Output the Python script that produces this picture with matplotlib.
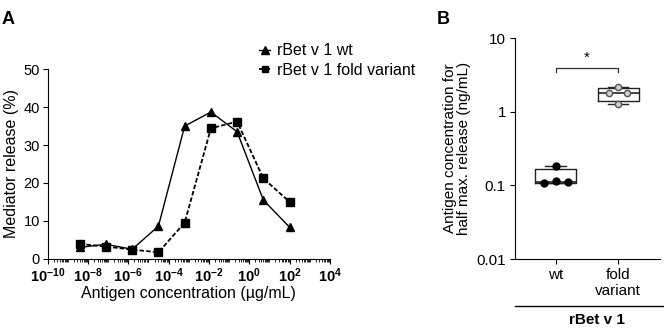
import numpy as np
import matplotlib
matplotlib.use("Agg")
import matplotlib.pyplot as plt
from matplotlib.ticker import LogLocator, FuncFormatter, NullFormatter, NullLocator

plt.rcParams['font.family'] = ['Liberation Sans', 'DejaVu Sans']
plt.rcParams['mathtext.fontset'] = 'custom'
plt.rcParams['mathtext.rm'] = 'Liberation Sans'
plt.rcParams['mathtext.bf'] = 'Liberation Sans:bold'
plt.rcParams['axes.linewidth'] = 0.8

# panel A data: dose response, concentrations in ug/mL (1:20 dilution series)
conc = [3.90625e-9, 7.8125e-8, 1.5625e-6, 3.125e-5, 6.25e-4, 0.0125, 0.25, 5, 100]
wt_release = [3.0, 3.8, 2.5, 8.6, 35.0, 38.7, 33.5, 15.5, 8.3]
fold_release = [3.9, 3.2, 2.4, 1.7, 9.5, 34.4, 36.2, 21.2, 15.0]
series_labels = ["rBet v 1 wt", "rBet v 1 fold variant"]

# panel B data: EC50 (ng/mL)
groups = ["wt", "fold\nvariant"]
wt_ec50 = [0.107, 0.115, 0.110, 0.184]
fold_ec50 = [1.79, 1.28, 1.79, 2.19]
wt_jitter = [-0.19, 0.0, 0.19, 0.0]
fold_jitter = [-0.14, 0.0, 0.14, 0.0]

fig = plt.figure(figsize=(6.64, 3.36), dpi=100)

# ---------------- panel A
axA = fig.add_axes([0.0718, 0.230, 0.425, 0.564])
hA1, = axA.plot(conc, wt_release, '-', color='black', lw=1.0, marker='^', ms=6)
hA2, = axA.plot(conc, fold_release, '--', color='black', lw=1.3, marker='s', ms=5.2,
                dashes=(2.5, 1.2))
axA.set_xscale('log')
axA.set_xlim(1e-10, 1e4)
axA.set_ylim(0, 50)
axA.set_yticks([0, 10, 20, 30, 40, 50])
axA.set_xticks(10.0 ** np.arange(-10, 5, 2))
axA.xaxis.set_minor_locator(LogLocator(base=10, subs=np.arange(1, 10), numticks=100))
axA.xaxis.set_minor_formatter(NullFormatter())
axA.xaxis.set_major_formatter(FuncFormatter(
    lambda v, p: r'$\mathbf{10^{%d}}$' % int(round(np.log10(v)))))
axA.spines['top'].set_visible(False)
axA.spines['right'].set_visible(False)
axA.tick_params(axis='both', which='major', length=3.5, width=0.8, labelsize=10.5, pad=2)
axA.tick_params(axis='x', which='minor', length=2, width=0.6)
axA.set_ylabel("Mediator release (%)", fontsize=11.5, labelpad=3)
axA.set_xlabel("Antigen concentration (µg/mL)", fontsize=11.5, labelpad=1)
fig.legend([hA1, hA2], series_labels, loc='upper left',
           bbox_to_anchor=(0.378, 0.895), frameon=False, fontsize=11.5,
           handlelength=0.7, handletextpad=0.4, labelspacing=0.3,
           borderpad=0, numpoints=1, markerscale=0.9)

# ---------------- panel B
axB = fig.add_axes([0.7756, 0.229, 0.2184, 0.657])
stats = []
for vals, lab in zip([wt_ec50, fold_ec50], groups):
    v = np.array(vals)
    q1, med, q3 = np.percentile(v, [25, 50, 75], method='weibull')
    stats.append(dict(med=med, q1=q1, q3=q3, whislo=v.min(), whishi=v.max(),
                      fliers=[], label=lab))
axB.bxp(stats, positions=[0, 1], widths=0.66, capwidths=0.33, showfliers=False,
        boxprops=dict(color='#222222', lw=1.0),
        whiskerprops=dict(color='#222222', lw=1.0),
        capprops=dict(color='#222222', lw=1.0),
        medianprops=dict(color='#222222', lw=1.2))
axB.plot(np.array(wt_jitter), wt_ec50, 'o', color='black', ms=5, zorder=3)
axB.plot(1 + np.array(fold_jitter), fold_ec50, 'o', mfc='#cfcfcf', mec='#555555',
         mew=1.0, ms=4.5, zorder=3)
axB.set_yscale('log')
axB.set_ylim(0.01, 10)
axB.set_xlim(-0.65, 1.67)
axB.yaxis.set_minor_locator(NullLocator())
axB.set_yticks([0.01, 0.1, 1, 10])
axB.set_yticklabels(["0.01", "0.1", "1", "10"])
axB.set_xticks([0, 1])
axB.set_xticklabels(groups)
axB.spines['top'].set_visible(False)
axB.spines['right'].set_visible(False)
axB.tick_params(axis='both', length=3.5, width=0.8, labelsize=11, pad=3)
axB.set_ylabel("Antigen concentration for\nhalf max. release (ng/mL)", fontsize=11,
               linespacing=1.0)
axB.yaxis.set_label_coords(-0.30, 0.5)

# significance bracket
axB.plot([0, 0, 1, 1], [3.5, 4.0, 4.0, 3.5], color='#333333', lw=0.9)
axB.text(0.5, 4.4, "*", ha='center', va='bottom', fontsize=11)

# group bar below
fig.add_artist(plt.Line2D([515 / 664, 1.0], [1 - 306 / 336, 1 - 306 / 336],
                          color='black', lw=1.0))
fig.text(597 / 664, 1 - 320 / 336, "rBet v 1", ha='center', va='center',
         fontsize=11, fontweight='bold')

# panel letters
fig.text(0.002, 1 - 24.5 / 336, "A", fontsize=13, fontweight='bold', va='baseline')
fig.text(437 / 664, 1 - 24.5 / 336, "B", fontsize=13, fontweight='bold', va='baseline')

fig.savefig("out.png", dpi=100)
